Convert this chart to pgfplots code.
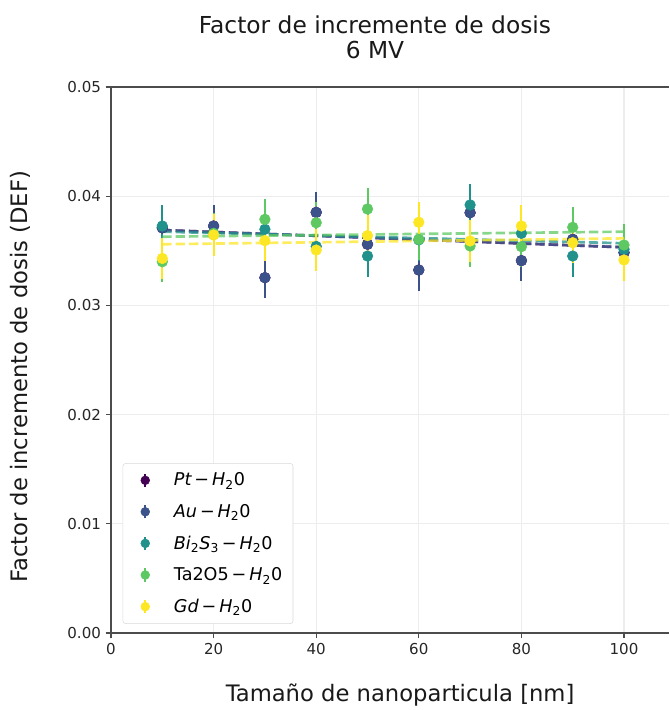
\documentclass[border=0pt]{standalone}
\usepackage{fontspec}
\setmainfont{DejaVu Sans}
\usepackage{pgfplots}
\usepackage{pgfplotstable}
\pgfplotsset{compat=1.18}
\definecolor{cPt}{HTML}{440154}
\definecolor{cAu}{HTML}{3B528B}
\definecolor{cBi}{HTML}{21918C}
\definecolor{cTa}{HTML}{5EC962}
\definecolor{cGd}{HTML}{FDE725}

\pgfplotstableread{
x y e
10 0.0371 0.0019
20 0.03727 0.0019
30 0.03254 0.0019
40 0.03852 0.0019
50 0.0356 0.0019
60 0.03324 0.0019
70 0.03849 0.0019
80 0.0341 0.0019
90 0.03605 0.0019
100 0.03483 0.0019
}\ptdata
\pgfplotstableread{
x y e
10 0.0371 0.0019
20 0.03727 0.0019
30 0.03254 0.0019
40 0.03852 0.0019
50 0.0356 0.0019
60 0.03324 0.0019
70 0.03849 0.0019
80 0.0341 0.0019
90 0.03605 0.0019
100 0.03483 0.0019
}\audata
\pgfplotstableread{
x y e
10 0.03727 0.0019
20 0.0365 0.0019
30 0.03697 0.0019
40 0.0354 0.0019
50 0.03452 0.0019
60 0.0360 0.0019
70 0.0392 0.0019
80 0.0366 0.0019
90 0.03452 0.0019
100 0.03514 0.0019
}\bidata
\pgfplotstableread{
x y e
10 0.0340 0.0019
20 0.0366 0.0019
30 0.03788 0.0019
40 0.03757 0.0019
50 0.03883 0.0019
60 0.03605 0.0019
70 0.03544 0.0019
80 0.03538 0.0019
90 0.03715 0.0019
100 0.03553 0.0019
}\tadata
\pgfplotstableread{
x y e
10 0.0343 0.0019
20 0.03645 0.0019
30 0.03593 0.0019
40 0.03507 0.0019
50 0.03639 0.0019
60 0.03761 0.0019
70 0.0359 0.0019
80 0.03727 0.0019
90 0.03574 0.0019
100 0.03416 0.0019
}\gddata

\pgfplotsset{
  pts/.style={only marks, mark=*, mark size=4pt, color=#1, mark options={fill=#1, draw=#1},
    error bars/.cd, y dir=both, y explicit, error mark=none,
    error bar style={line width=1.5pt, #1}},
  fit/.style={#1, line width=2pt, dash pattern=on 7pt off 3pt, opacity=0.75, forget plot},
}

\begin{document}
\begin{tikzpicture}
\begin{axis}[
  at={(0,0)}, anchor=south west,
  scale only axis, width=418.5pt, height=409.5pt,
  xmin=0, xmax=108.77, ymin=0, ymax=0.05,
  axis x line*=box, axis y line*=left,
  xtick={0,20,40,60,80,100},
  ytick={0,0.01,0.02,0.03,0.04,0.05},
  xtick pos=bottom, ytick pos=left,
  scaled y ticks=false,
  yticklabel style={/pgf/number format/fixed, /pgf/number format/fixed zerofill, /pgf/number format/precision=2},
  /pgf/number format/assume math mode=true,
  ticklabel style={font=\fontsize{11.3}{13}\selectfont, text=black!85},
  tick align=outside, major tick length=4pt,
  tick style={black!70, line width=0.8pt},
  axis line style={black!70, line width=1pt},
  grid=major, major grid style={black!7, line width=0.8pt},
  xlabel={Tamaño de nanoparticula [nm]},
  ylabel={Factor de incremento de dosis (DEF)},
  label style={font=\fontsize{17}{20}\selectfont, text=black!90},
  xlabel style={at={(axis description cs:0.518,-0.1136)}, anchor=center},
  ylabel style={at={(axis description cs:-0.1631,0.469)}, anchor=center},
  legend style={at={(axis description cs:0.021,0.311)}, anchor=north west,
    draw=black!15, rounded corners=2pt, fill=white,
    font=\fontsize{13.2}{15}\selectfont, row sep=8.3pt, inner xsep=6pt, inner ysep=5pt},
  legend cell align=left,
  legend image code/.code={\path (0pt,0pt) (29.8pt,0pt); \draw[line width=1.5pt] (10.5pt,-5pt) -- (10.5pt,5pt); \fill (10.5pt,0pt) circle (3.3pt);},
]
\addplot[pts=cPt] table[x=x, y=y, y error=e] {\ptdata};
\addlegendentry{{\itshape Pt}\,−\,{\itshape H}\textsubscript{2}0}
\addplot[fit=cPt] coordinates {(10,0.0369) (100,0.03532)};
\addplot[pts=cAu] table[x=x, y=y, y error=e] {\audata};
\addlegendentry{{\itshape Au}\,−\,{\itshape H}\textsubscript{2}0}
\addplot[fit=cAu] coordinates {(10,0.0369) (100,0.03532)};
\addplot[pts=cBi] table[x=x, y=y, y error=e] {\bidata};
\addlegendentry{{\itshape Bi}\textsubscript{2}{\itshape S}\textsubscript{3}\,−\,{\itshape H}\textsubscript{2}0}
\addplot[fit=cBi] coordinates {(10,0.03675) (100,0.03569)};
\addplot[pts=cTa] table[x=x, y=y, y error=e] {\tadata};
\addlegendentry{Ta2O5\,−\,{\itshape H}\textsubscript{2}0}
\addplot[fit=cTa] coordinates {(10,0.03629) (100,0.03675)};
\addplot[pts=cGd] table[x=x, y=y, y error=e] {\gddata};
\addlegendentry{{\itshape Gd}\,−\,{\itshape H}\textsubscript{2}0}
\addplot[fit=cGd] coordinates {(10,0.0356) (100,0.03614)};
\end{axis}
\node[align=center, font=\fontsize{17.5}{18.75}\selectfont, text=black!90] at (198pt,446.6pt) {Factor de incremente de dosis\\6 MV};
\pgfresetboundingbox
\useasboundingbox (-83.25pt,-57.75pt) rectangle (418.5pt,474.75pt);
\end{tikzpicture}
\end{document}
